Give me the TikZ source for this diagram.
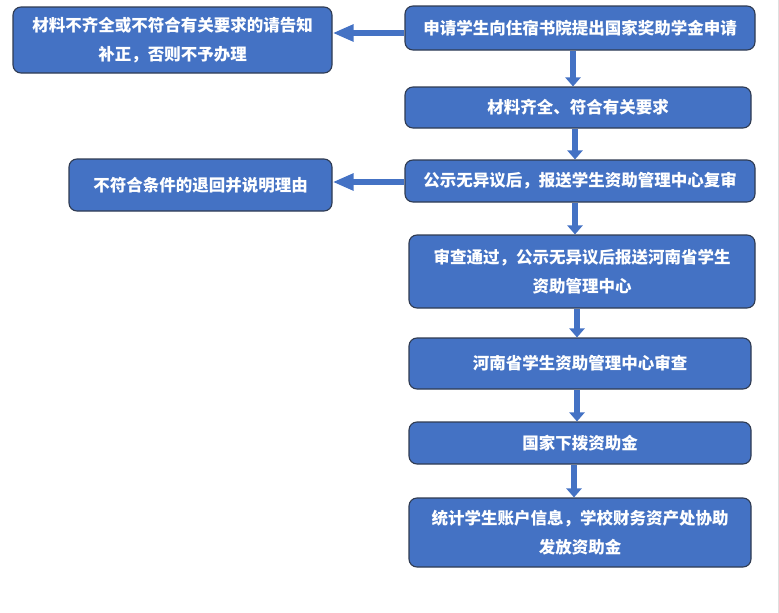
\documentclass[tikz,border=0pt]{standalone}
\usepackage{fontspec}
\newfontfamily\cjk{Noto Sans CJK SC}
\usetikzlibrary{arrows.meta}
\definecolor{boxblue}{HTML}{4472C4}
\definecolor{boxline}{HTML}{2F3B52}
\begin{document}
\begin{tikzpicture}[x=1pt, y=-1pt,
    stepbox/.style={draw=boxline, line width=1.1pt, fill=boxblue, rounded corners=8pt,
        text=white, align=center, inner sep=0pt,
        font=\cjk\bfseries\fontsize{16.5}{29}\selectfont},
    downarrow/.style={boxblue, line width=6pt, -{Triangle[width=15pt, length=9pt]}},
    sidearrow/.style={boxblue, line width=6.5pt, -{Triangle[width=16pt, length=21pt]}}]
    \useasboundingbox (0,0) rectangle (779,613);
    \draw[gray!25] (778,0) -- (778,613);
    \node[stepbox, minimum width=350, minimum height=44] (n1) at (580,28) {申请学生向住宿书院提出国家奖助学金申请};
    \node[stepbox, minimum width=346, minimum height=41] (n2) at (578,107.5) {材料齐全、符合有关要求};
    \node[stepbox, minimum width=350, minimum height=42] (n3) at (580,181) {公示无异议后，报送学生资助管理中心复审};
    \node[stepbox, minimum width=346, minimum height=73] (n4) at (582,271.5) {审查通过，公示无异议后报送河南省学生\\资助管理中心};
    \node[stepbox, minimum width=342, minimum height=51] (n5) at (580,363.5) {河南省学生资助管理中心审查};
    \node[stepbox, minimum width=342, minimum height=42] (n6) at (580,443) {国家下拨资助金};
    \node[stepbox, minimum width=342, minimum height=69] (n7) at (580,532.5) {统计学生账户信息，学校财务资产处协助\\发放资助金};
    \node[stepbox, minimum width=319, minimum height=66] (r1) at (172.5,40) {材料不齐全或不符合有关要求的请告知\\补正，否则不予办理};
    \node[stepbox, minimum width=263, minimum height=52] (r2) at (200.5,185) {不符合条件的退回并说明理由};
    % flow down
    \draw[downarrow] ([xshift=-7pt]n1.south) -- ([xshift=-7pt]n1.south |- n2.north);
    \draw[downarrow] ([xshift=-3pt]n2.south) -- ([xshift=-3pt]n2.south |- n3.north);
    \draw[downarrow] ([xshift=-5pt]n3.south) -- ([xshift=-5pt]n3.south |- n4.north);
    \draw[downarrow] ([xshift=-5pt]n4.south) -- ([xshift=-5pt]n4.south |- n5.north);
    \draw[downarrow] ([xshift=-3pt]n5.south) -- ([xshift=-3pt]n5.south |- n6.north);
    \draw[downarrow] ([xshift=-6pt]n6.south) -- ([xshift=-6pt]n6.south |- n7.north);
    % rejections
    \draw[sidearrow] ([yshift=-5pt]n1.west) -- ([yshift=-5pt]n1.west -| r1.east);
    \draw[sidearrow] ([yshift=-1pt]n3.west) -- ([yshift=-1pt]n3.west -| r2.east);
\end{tikzpicture}
\end{document}
